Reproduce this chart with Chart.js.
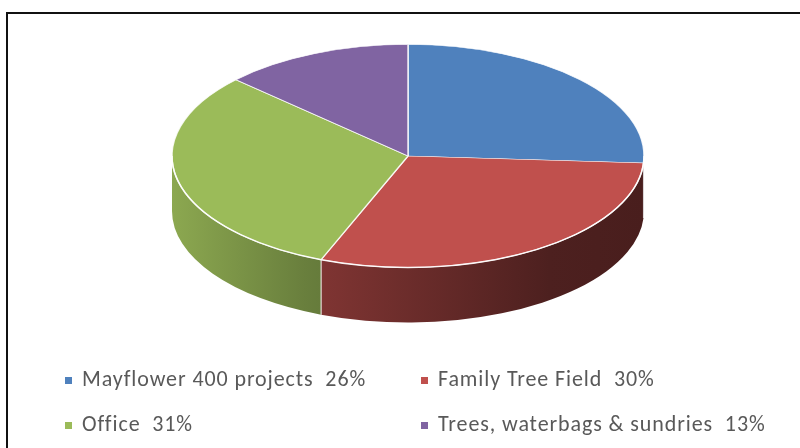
<!DOCTYPE html>
<html>
<head>
<meta charset="utf-8">
<script src="https://cdn.jsdelivr.net/npm/chart.js@4.4.1/dist/chart.umd.min.js"></script>
<style>
  html, body { margin: 0; padding: 0; background: #fff; }
  body { width: 800px; height: 448px; overflow: hidden; position: relative; }
  #frame { position: absolute; left: 6px; top: 12px; width: 800px; height: 440px;
           border-left: 2px solid #111; border-top: 2px solid #111; }
  #chart { position: absolute; left: 0; top: 0; }
  .item { position: absolute; font-family: Carlito, "Liberation Sans", Arial, sans-serif;
          font-size: 22px; line-height: 22px; color: #595959; white-space: pre; letter-spacing: 0.9px; }
  .box { position: absolute; width: 7px; height: 7px; }
</style>
</head>
<body>
<div id="frame"></div>
<canvas id="chart" width="800" height="480"></canvas>
<div id="legend"></div>
<script>
const labels = ['Mayflower 400 projects', 'Family Tree Field', 'Office', 'Trees, waterbags & sundries']
const values = [26, 30, 31, 13]
const colors = ['#4f81bd', '#c0504d', '#9bbb59', '#8064a2']

// look of the tilted pie
const topY = 156       // centre of the top face on screen
const squash = 0.4725  // ry / rx
const depth = 55

function shade(hex, f) {
  const n = parseInt(hex.slice(1), 16)
  const r = Math.round(((n >> 16) & 255) * f)
  const g = Math.round(((n >> 8) & 255) * f)
  const b = Math.round((n & 255) * f)
  return `rgb(${r},${g},${b})`
}

const tiltPlugin = {
  id: 'tilt',
  beforeDatasetsDraw(chart) {
    const ctx = chart.ctx
    const arcs = chart.getDatasetMeta(0).data
    const cx = arcs[0].x, cy = arcs[0].y, R = arcs[0].outerRadius
    const ry = R * squash

    // side wall, only the front half (0..PI) shows
    arcs.forEach((arc, i) => {
      const b0 = Math.max(arc.startAngle, 0)
      const b1 = Math.min(arc.endAngle, Math.PI)
      if (b1 <= b0) return
      const grad = ctx.createLinearGradient(cx - R, 0, cx + R, 0)
      grad.addColorStop(0, shade(colors[i], 0.9))
      grad.addColorStop(0.28, shade(colors[i], 0.68))
      grad.addColorStop(0.8, shade(colors[i], 0.4))
      grad.addColorStop(1, shade(colors[i], 0.38))
      ctx.beginPath()
      ctx.ellipse(cx, topY, R, ry, 0, b0, b1, false)
      ctx.ellipse(cx, topY + depth, R, ry, 0, b1, b0, true)
      ctx.closePath()
      ctx.fillStyle = grad
      ctx.fill()
      // seam between two walls
      if (arc.startAngle > 0 && arc.startAngle < Math.PI) {
        const x = cx + R * Math.cos(arc.startAngle)
        const y = topY + ry * Math.sin(arc.startAngle)
        ctx.beginPath()
        ctx.moveTo(x, y)
        ctx.lineTo(x, y + depth)
        ctx.strokeStyle = 'rgba(255,255,255,0.75)'
        ctx.lineWidth = 1.2
        ctx.stroke()
      }
    })

    ctx.save()
    ctx.translate(0, topY)
    ctx.scale(1, squash)
    ctx.translate(0, -cy)
  },
  afterDatasetsDraw(chart) {
    const ctx = chart.ctx
    ctx.restore()
    const arc = chart.getDatasetMeta(0).data[0]
    ctx.beginPath()
    ctx.ellipse(arc.x, topY, arc.outerRadius, arc.outerRadius * squash, 0, 0, Math.PI)
    ctx.strokeStyle = 'rgba(255,255,255,0.9)'
    ctx.lineWidth = 1.5
    ctx.stroke()
  }
}

new Chart(document.getElementById('chart'), {
  type: 'pie',
  data: {
    labels: labels,
    datasets: [{
      data: values,
      backgroundColor: colors,
      borderColor: 'rgba(255,255,255,0.85)',
      borderWidth: 1.5,
      clip: false
    }]
  },
  options: {
    responsive: false,
    animation: false,
    radius: 236,
    layout: { padding: { left: 16, right: 0, top: 4, bottom: 4 } },
    events: [],
    plugins: {
      legend: { display: false },
      tooltip: { enabled: false }
    }
  },
  plugins: [tiltPlugin]
})

// legend in two columns
const legend = document.getElementById('legend')
const colX = [65, 421]
const rowY = [377, 422]
labels.forEach((label, i) => {
  const x = colX[i % 2], y = rowY[Math.floor(i / 2)]
  const box = document.createElement('div')
  box.className = 'box'
  box.style.left = x + 'px'
  box.style.top = y + 'px'
  box.style.background = colors[i]
  legend.appendChild(box)
  const text = document.createElement('div')
  text.className = 'item'
  text.style.left = (x + 17) + 'px'
  text.style.top = (y - 9) + 'px'
  text.textContent = label + '  ' + values[i] + '%'
  legend.appendChild(text)
})
</script>
</body>
</html>
